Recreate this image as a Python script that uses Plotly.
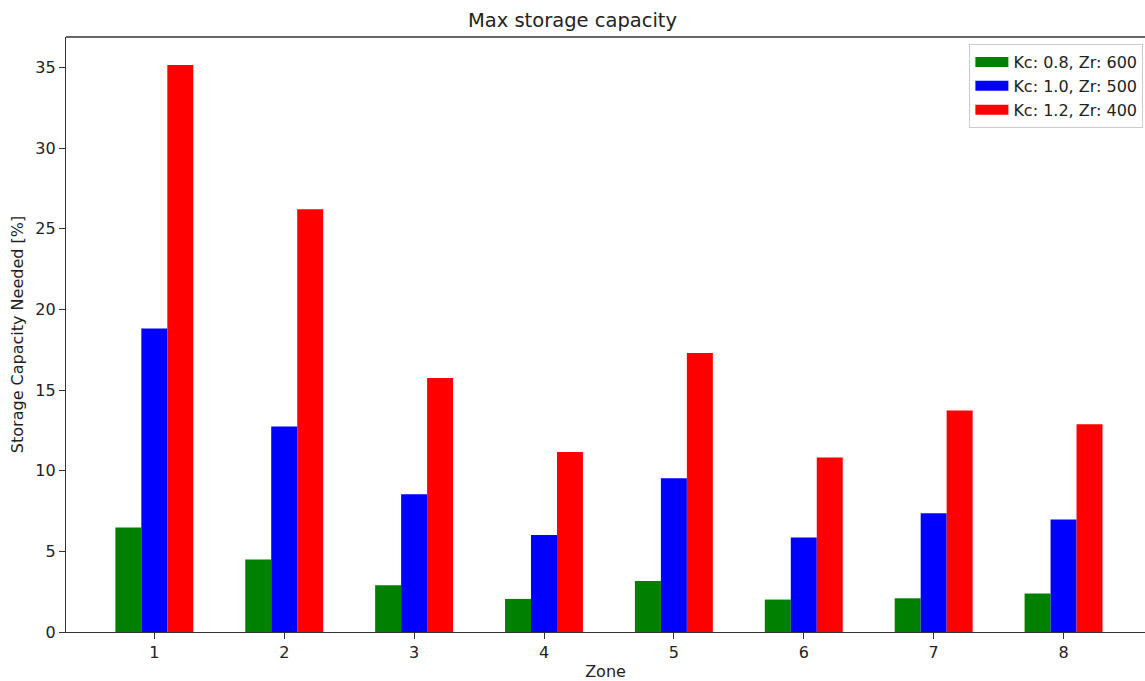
import plotly.graph_objects as go

zones = [1, 2, 3, 4, 5, 6, 7, 8]
series_names = ["Kc: 0.8, Zr: 600", "Kc: 1.0, Zr: 500", "Kc: 1.2, Zr: 400"]
series_colors = ["green", "blue", "red"]
kc08 = [6.47, 4.49, 2.90, 2.05, 3.16, 2.01, 2.09, 2.38]
kc10 = [18.81, 12.74, 8.54, 6.02, 9.53, 5.85, 7.36, 6.97]
kc12 = [35.14, 26.21, 15.75, 11.16, 17.30, 10.81, 13.73, 12.88]
values = [kc08, kc10, kc12]

FONT = "DejaVu Sans"
TXT = "#222222"

fig = go.Figure()
for name, color, vals in zip(series_names, series_colors, values):
    fig.add_trace(go.Bar(x=zones, y=vals, name=name, marker=dict(color=color, line=dict(width=0)),
                         showlegend=False))
# legend entries drawn as wide patches (matplotlib-like)
for name, color in zip(series_names, series_colors):
    fig.add_trace(go.Scatter(x=[None], y=[None], mode="lines", name=name,
                             line=dict(color=color, width=10), showlegend=True))

fig.update_layout(
    width=1145, height=681,
    margin=dict(l=66, r=0, t=37, b=49),
    paper_bgcolor="white", plot_bgcolor="white",
    font=dict(family=FONT, size=16, color=TXT),
    barmode="group", bargap=0.4, bargroupgap=0,
    title=dict(text="Max storage capacity", x=0.5, xref="container", xanchor="center",
               y=1 - 20 / 681, yref="container", yanchor="middle",
               font=dict(family=FONT, size=19.5, color=TXT)),
    legend=dict(x=0.9985, y=0.988, xanchor="right", yanchor="top",
                bordercolor="#cccccc", borderwidth=1, bgcolor="white",
                font=dict(family=FONT, size=16, color=TXT),
                itemwidth=33, tracegroupgap=0),
    shapes=[dict(type="line", xref="paper", yref="paper", x0=0, x1=1, y0=1, y1=1,
                 line=dict(color="#333333", width=1.3))],
)
fig.update_xaxes(range=[0.32, 8.627], tickmode="array", tickvals=zones,
                 ticktext=[str(z) for z in zones], automargin=False,
                 showgrid=False, zeroline=False, showline=True, linecolor="#333333", linewidth=1.3,
                 ticks="outside", ticklen=6, tickcolor="#333333", tickwidth=1.3,
                 title=dict(text="Zone", standoff=10, font=dict(family=FONT, size=16, color=TXT)))
fig.update_yaxes(range=[0, 36.88], tickmode="array", tickvals=[0, 5, 10, 15, 20, 25, 30, 35],
                 automargin=False,
                 showgrid=False, zeroline=False, showline=True, linecolor="#333333", linewidth=1.3,
                 ticks="outside", ticklen=6, tickcolor="#333333", tickwidth=1.3,
                 title=dict(text="Storage Capacity Needed [%]", standoff=7,
                            font=dict(family=FONT, size=16, color=TXT)))

fig.write_html("out.html", config={"displayModeBar": False},
               post_script="document.body.style.margin='0';document.body.style.overflow='hidden';")
